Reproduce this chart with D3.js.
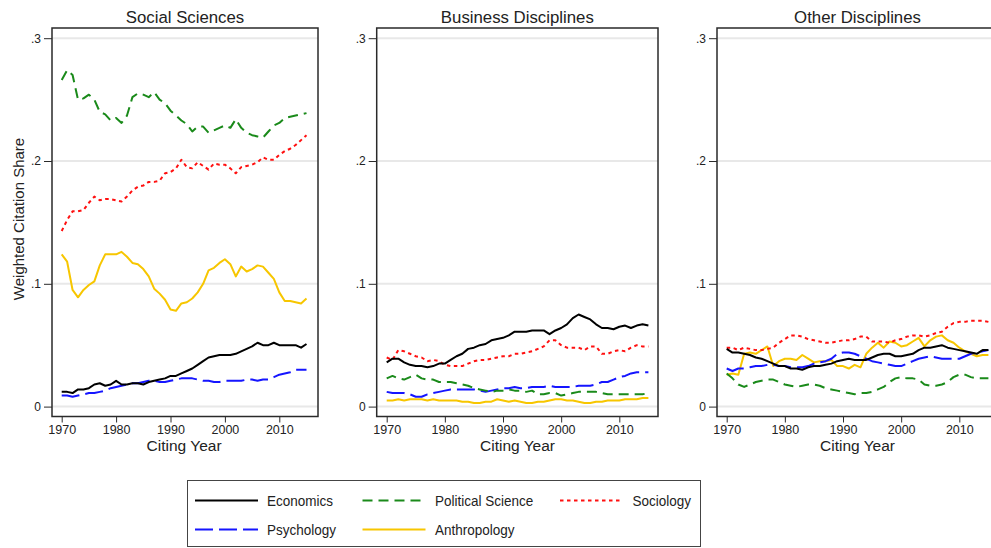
<!DOCTYPE html>
<html><head><meta charset="utf-8">
<script src="https://cdn.jsdelivr.net/npm/d3@7"></script>
<style>body{margin:0;background:#fff}svg{display:block;font-family:"Liberation Sans",Arial,sans-serif}</style>
</head><body><svg id="c" width="991" height="548"></svg>
<script>
const years = d3.range(1970, 2016);
const panelTitles = ["Social Sciences", "Business Disciplines", "Other Disciplines"];
const seriesNames = ["Economics", "Political Science", "Sociology", "Psychology", "Anthropology"];
const yTicks = [0, 0.1, 0.2, 0.3];
const yTickLabels = ["0", ".1", ".2", ".3"];
const xTicks = [1970, 1980, 1990, 2000, 2010];

// Social Sciences
const socEcon = [0.012,0.012,0.011,0.014,0.014,0.015,0.018,0.019,0.017,0.018,0.021,0.018,0.018,0.019,0.019,0.018,0.020,0.021,0.022,0.023,0.025,0.025,0.027,0.029,0.031,0.034,0.037,0.040,0.041,0.042,0.042,0.042,0.043,0.045,0.047,0.049,0.052,0.050,0.050,0.052,0.050,0.050,0.050,0.050,0.048,0.051];
const socPol = [0.266,0.274,0.270,0.250,0.251,0.254,0.250,0.240,0.238,0.233,0.235,0.231,0.237,0.252,0.255,0.254,0.252,0.256,0.250,0.247,0.241,0.237,0.233,0.230,0.224,0.228,0.228,0.223,0.225,0.227,0.229,0.227,0.234,0.227,0.223,0.221,0.220,0.219,0.224,0.229,0.231,0.235,0.236,0.237,0.238,0.239];
const socSoc = [0.143,0.152,0.159,0.159,0.160,0.166,0.171,0.168,0.169,0.169,0.168,0.167,0.171,0.176,0.179,0.180,0.183,0.183,0.184,0.190,0.191,0.194,0.201,0.195,0.194,0.199,0.196,0.193,0.198,0.197,0.197,0.194,0.190,0.195,0.196,0.197,0.199,0.203,0.201,0.201,0.205,0.208,0.210,0.213,0.217,0.221];
const socPsy = [0.009,0.009,0.008,0.009,0.010,0.011,0.011,0.012,0.013,0.015,0.016,0.017,0.018,0.019,0.019,0.020,0.021,0.021,0.020,0.020,0.021,0.022,0.023,0.023,0.023,0.022,0.021,0.021,0.020,0.020,0.021,0.021,0.021,0.021,0.022,0.022,0.021,0.022,0.022,0.024,0.026,0.027,0.028,0.030,0.030,0.030];
const socAnt = [0.124,0.118,0.095,0.089,0.095,0.099,0.102,0.115,0.124,0.124,0.124,0.126,0.122,0.117,0.116,0.112,0.106,0.096,0.092,0.087,0.079,0.078,0.084,0.085,0.088,0.093,0.100,0.111,0.113,0.117,0.120,0.116,0.106,0.114,0.110,0.112,0.115,0.114,0.109,0.104,0.093,0.086,0.086,0.085,0.084,0.088];

// Business Disciplines
const busEcon = [0.036,0.039,0.039,0.036,0.034,0.033,0.033,0.032,0.033,0.035,0.035,0.038,0.041,0.043,0.047,0.048,0.050,0.051,0.054,0.055,0.056,0.058,0.061,0.061,0.061,0.062,0.062,0.062,0.059,0.062,0.064,0.067,0.072,0.075,0.073,0.071,0.067,0.064,0.064,0.063,0.065,0.066,0.064,0.066,0.067,0.066];
const busPol = [0.023,0.025,0.023,0.022,0.024,0.026,0.023,0.022,0.022,0.020,0.020,0.020,0.019,0.018,0.017,0.015,0.014,0.013,0.012,0.013,0.013,0.014,0.013,0.013,0.012,0.013,0.010,0.010,0.011,0.011,0.009,0.010,0.011,0.012,0.012,0.012,0.012,0.011,0.010,0.010,0.010,0.010,0.010,0.010,0.010,0.011];
const busSoc = [0.040,0.038,0.046,0.045,0.043,0.041,0.040,0.037,0.038,0.037,0.034,0.033,0.033,0.033,0.035,0.037,0.038,0.038,0.039,0.040,0.041,0.041,0.043,0.043,0.044,0.045,0.047,0.049,0.054,0.054,0.050,0.048,0.048,0.048,0.046,0.049,0.049,0.043,0.043,0.045,0.046,0.045,0.048,0.050,0.049,0.049];
const busPsy = [0.012,0.011,0.011,0.011,0.010,0.008,0.008,0.010,0.011,0.012,0.013,0.014,0.014,0.014,0.014,0.014,0.013,0.012,0.013,0.014,0.015,0.015,0.016,0.015,0.015,0.016,0.016,0.016,0.017,0.016,0.016,0.016,0.016,0.017,0.017,0.017,0.018,0.020,0.020,0.022,0.024,0.025,0.027,0.028,0.028,0.028];
const busAnt = [0.005,0.005,0.006,0.005,0.006,0.006,0.006,0.005,0.006,0.005,0.005,0.005,0.005,0.004,0.004,0.003,0.003,0.004,0.004,0.006,0.005,0.004,0.005,0.004,0.003,0.003,0.004,0.004,0.005,0.006,0.006,0.005,0.005,0.004,0.003,0.003,0.004,0.004,0.005,0.005,0.005,0.006,0.006,0.006,0.007,0.007];

// Other Disciplines
const othEcon = [0.047,0.044,0.044,0.043,0.042,0.040,0.039,0.037,0.035,0.033,0.033,0.031,0.031,0.030,0.032,0.033,0.033,0.034,0.035,0.037,0.038,0.039,0.038,0.038,0.038,0.040,0.042,0.043,0.043,0.041,0.041,0.042,0.043,0.046,0.048,0.048,0.049,0.050,0.048,0.047,0.046,0.045,0.044,0.043,0.046,0.046];
const othPol = [0.027,0.023,0.018,0.016,0.018,0.020,0.021,0.022,0.022,0.020,0.018,0.017,0.016,0.017,0.018,0.018,0.017,0.015,0.014,0.013,0.012,0.011,0.010,0.011,0.011,0.012,0.014,0.016,0.020,0.023,0.024,0.023,0.023,0.022,0.018,0.017,0.017,0.018,0.020,0.024,0.026,0.026,0.024,0.023,0.023,0.023];
const othSoc = [0.048,0.048,0.046,0.048,0.047,0.046,0.046,0.047,0.048,0.052,0.055,0.058,0.058,0.057,0.055,0.054,0.053,0.052,0.052,0.053,0.054,0.054,0.055,0.057,0.057,0.053,0.053,0.053,0.052,0.054,0.055,0.057,0.058,0.058,0.057,0.058,0.060,0.061,0.065,0.068,0.069,0.069,0.070,0.070,0.070,0.069];
const othPsy = [0.031,0.029,0.031,0.031,0.032,0.033,0.033,0.034,0.034,0.033,0.033,0.032,0.032,0.032,0.033,0.035,0.036,0.037,0.039,0.043,0.044,0.044,0.043,0.041,0.039,0.037,0.036,0.035,0.034,0.033,0.033,0.035,0.037,0.039,0.040,0.041,0.040,0.039,0.039,0.039,0.039,0.041,0.043,0.044,0.045,0.046];
const othAnt = [0.026,0.027,0.026,0.043,0.044,0.043,0.046,0.049,0.033,0.037,0.039,0.039,0.038,0.042,0.039,0.036,0.037,0.037,0.038,0.033,0.033,0.031,0.034,0.032,0.043,0.048,0.052,0.048,0.053,0.052,0.049,0.050,0.053,0.056,0.049,0.054,0.057,0.058,0.054,0.052,0.048,0.045,0.043,0.041,0.042,0.042];

const panelData = [
  [socEcon, socPol, socSoc, socPsy, socAnt],
  [busEcon, busPol, busSoc, busPsy, busAnt],
  [othEcon, othPol, othSoc, othPsy, othAnt]
];

const styles = [
  {color:"#000000", dash:null},
  {color:"#1a8a1a", dash:"10,6"},
  {color:"#ff1010", dash:"3.5,3.5"},
  {color:"#1515ff", dash:"18,6"},
  {color:"#f7c600", dash:null}
];
const drawOrder = [4, 3, 1, 2, 0];

const svg = d3.select("#c");
const frames = [
  {l:52, r:318, x0:61.7, x1:306.5},
  {l:376.7, r:658, x0:386.7, x1:648.4},
  {l:717, r:998, x0:726.7, x1:988.4}
];
const frameTop = 28, frameBottom = 416.5;
const y = d3.scaleLinear().domain([0, 0.3]).range([406.6, 38.2]);

frames.forEach((f, pi) => {
  const x = d3.scaleLinear().domain([1970, 2015]).range([f.x0, f.x1]);
  const g = svg.append("g");
  g.selectAll("line.grid").data(yTicks).enter().append("line")
    .attr("x1", f.l).attr("x2", f.r)
    .attr("y1", d => y(d)).attr("y2", d => y(d))
    .attr("stroke", "#e8e8e8").attr("stroke-width", 2);
  const line = d3.line().x((d, i) => x(years[i])).y(d => y(d));
  drawOrder.forEach(si => {
    g.append("path").datum(panelData[pi][si])
      .attr("d", line).attr("fill", "none")
      .attr("stroke", styles[si].color).attr("stroke-width", 2)
      .attr("stroke-linejoin", "round")
      .attr("stroke-dasharray", styles[si].dash);
  });
  g.append("rect").attr("x", f.l).attr("y", frameTop).attr("width", f.r - f.l).attr("height", frameBottom - frameTop)
    .attr("fill", "none").attr("stroke", "#2a2a2a").attr("stroke-width", 1.5);
  const ya = d3.axisLeft(y).tickValues(yTicks).tickFormat((d, i) => yTickLabels[i]).tickSize(8).tickPadding(3);
  const yg = g.append("g").attr("transform", `translate(${f.l},0)`).call(ya);
  yg.select(".domain").remove();
  yg.selectAll(".tick line").attr("stroke", "#2a2a2a").attr("stroke-width", 1);
  yg.selectAll(".tick text").attr("font-size", 12).attr("fill", "#222").attr("font-family", "Liberation Sans, Arial, sans-serif");
  const xa = d3.axisBottom(x).tickValues(xTicks).tickFormat(d3.format("d")).tickSize(6).tickPadding(3);
  const xg = g.append("g").attr("transform", `translate(0,${frameBottom})`).call(xa);
  xg.select(".domain").remove();
  xg.selectAll(".tick line").attr("stroke", "#2a2a2a").attr("stroke-width", 1);
  xg.selectAll(".tick text").attr("font-size", 12.5).attr("fill", "#222").attr("font-family", "Liberation Sans, Arial, sans-serif");
  g.append("text").attr("x", (f.l + f.r) / 2).attr("y", 22.5)
    .attr("text-anchor", "middle").attr("font-size", 16.8).attr("fill", "#222").text(panelTitles[pi]);
  g.append("text").attr("x", x(1992.5)).attr("y", 451)
    .attr("text-anchor", "middle").attr("font-size", 15.5).attr("fill", "#222").text("Citing Year");
});

svg.append("text").attr("transform", "translate(24,219) rotate(-90)")
  .attr("text-anchor", "middle").attr("font-size", 15).attr("fill", "#222").text("Weighted Citation Share");

const lg = svg.append("g");
lg.append("rect").attr("x", 187.5).attr("y", 480.5).attr("width", 513).attr("height", 66)
  .attr("fill", "#fff").attr("stroke", "#444").attr("stroke-width", 1);
const legPos = [
  {sx:195, tx:267, ry:500.5},
  {sx:362.5, tx:435, ry:500.5},
  {sx:560, tx:632.5, ry:500.5},
  {sx:195, tx:267, ry:529.5},
  {sx:362.5, tx:435, ry:529.5}
];
seriesNames.forEach((name, i) => {
  const p = legPos[i];
  lg.append("line").attr("x1", p.sx).attr("x2", p.sx + 63).attr("y1", p.ry).attr("y2", p.ry)
    .attr("stroke", styles[i].color).attr("stroke-width", 2).attr("stroke-dasharray", styles[i].dash);
  lg.append("text").attr("transform", `translate(${p.tx},${p.ry + 5.5}) scale(0.9,1)`)
    .attr("font-size", 15).attr("fill", "#222").text(name);
});
</script></body></html>
